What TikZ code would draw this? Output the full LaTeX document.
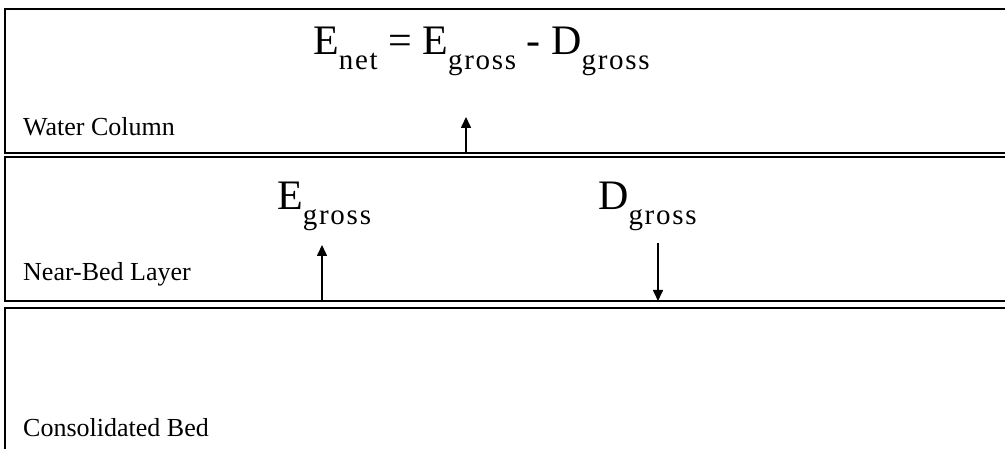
\documentclass[tikz,border=0pt]{standalone}
\usepackage{fontspec}
\setmainfont{Liberation Serif}
\newfontfamily\subfont[LetterSpace=6]{Liberation Serif}
\usetikzlibrary{arrows.meta}
\begin{document}
\begin{tikzpicture}[x=1pt,y=-1pt,
  layerbox/.style={draw=black, line width=2pt, anchor=north west, minimum width=1010pt, inner sep=0pt, outer sep=0pt},
  lbl/.style={anchor=base west, inner sep=0pt, font=\fontsize{26}{26}\selectfont},
  eqn/.style={anchor=base west, inner sep=0pt, font=\fontsize{42}{42}\selectfont},
  arr/.style={line width=1.6pt, -{Triangle[length=11pt,width=10pt]}}]
\newcommand{\sbs}[1]{\raisebox{-15pt}{\subfont\fontsize{29}{29}\selectfont #1}}
\useasboundingbox (0,0) rectangle (1005,449);
% layers
\node[layerbox, minimum height=144pt] (wc) at (5,9) {};
\node[layerbox, minimum height=144pt] (nb) at (5,157) {};
\node[layerbox, minimum height=160pt] (cb) at (5,308) {};
% labels
\node[lbl] (wcl) at (23,136) {Water Column};
\node[lbl] (nbl) at (23,281) {Near-Bed Layer};
\node[lbl] (cbl) at (23,436) {Consolidated Bed};
% formulas
\node[eqn] (net) at (313,55) {E\sbs{net} = E\sbs{gross} - D\sbs{gross}};
\node[eqn] (eg) at (277,210) {E\sbs{gross}};
\node[eqn] (dg) at (598,210) {D\sbs{gross}};
% arrows
\coordinate (a1s) at (466,153);
\coordinate (a1e) at (466,117);
\coordinate (a2s) at (322,301);
\coordinate (a2e) at (322,245);
\coordinate (a3s) at (658,243);
\coordinate (a3e) at (658,301);
\draw[arr] (a1s) -- (a1e);
\draw[arr] (a2s) -- (a2e);
\draw[arr] (a3s) -- (a3e);
\end{tikzpicture}
\end{document}
